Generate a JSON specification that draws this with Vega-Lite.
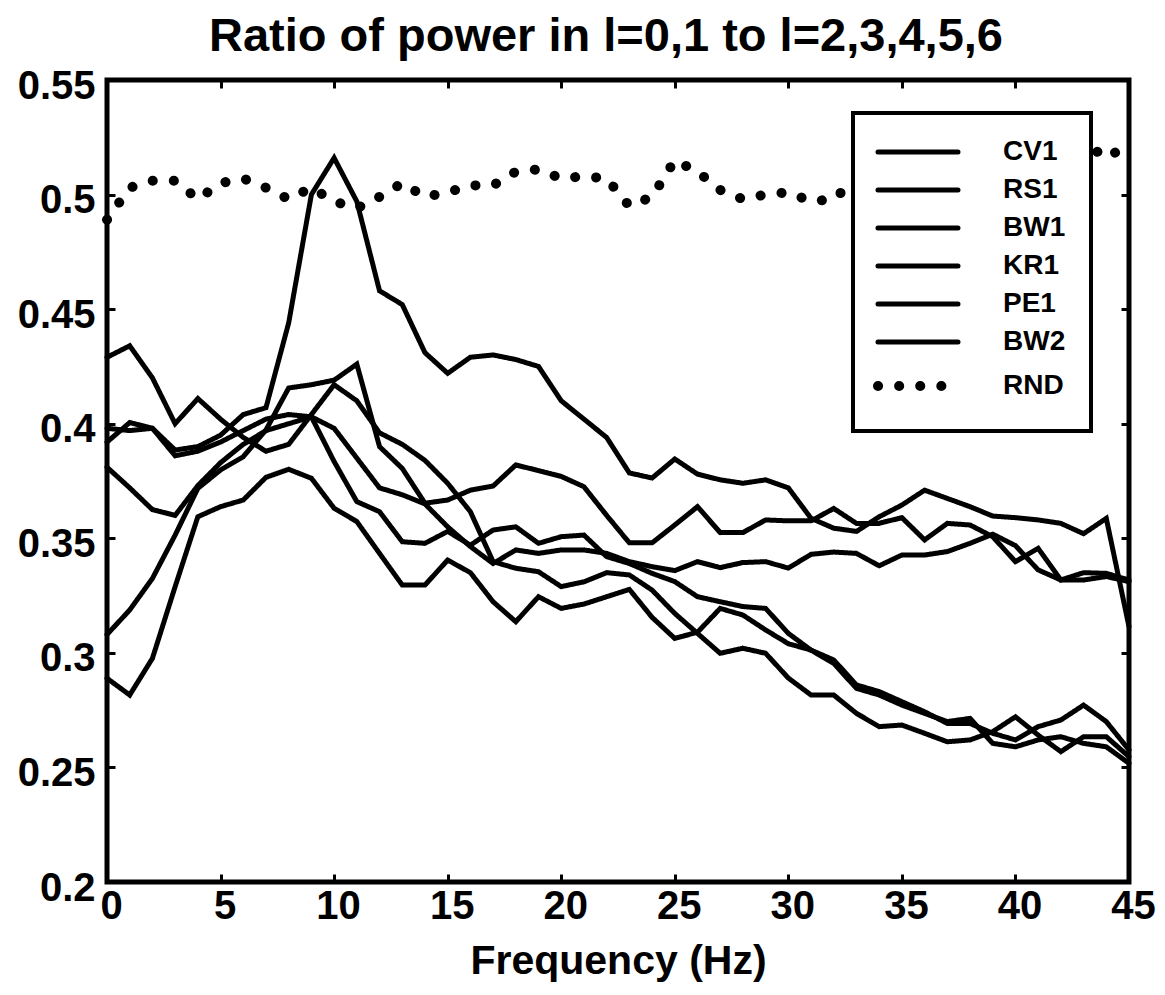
{
  "$schema": "https://vega.github.io/schema/vega-lite/v6.json",
  "width": 1022,
  "height": 802,
  "autosize": {"type": "none"},
  "padding": {"left": 107, "top": 80, "right": 36, "bottom": 113},
  "background": "white",
  "title": {"text": "Ratio of power in l=0,1 to l=2,3,4,5,6", "fontSize": 47, "font": "Liberation Sans", "fontWeight": "bold", "color": "black", "anchor": "middle", "offset": 5, "dx": -12},
  "config": {
    "view": {"stroke": "black", "strokeWidth": 5},
    "font": "Liberation Sans",
    "legend": {
      "orient": "none", "legendX": 746, "legendY": 33,
      "strokeColor": "black", "padding": 25, "rowPadding": 10,
      "symbolType": "M-4,0H4", "symbolSize": 400, "symbolOffset": 25,
      "labelOffset": 70, "labelFontSize": 28, "labelFont": "Liberation Sans",
      "labelFontWeight": "bold", "labelColor": "black", "fillColor": "white"
    }
  },
  "data": {"values": [
    {"f":0,"CV1":0.398,"RS1":0.429,"BW1":0.308,"KR1":0.392,"PE1":0.381,"BW2":0.2889,"RND":0.489},
    {"f":1,"CV1":0.397,"RS1":0.434,"BW1":0.3187,"KR1":0.4005,"PE1":0.372,"BW2":0.2816,"RND":0.503},
    {"f":2,"CV1":0.398,"RS1":0.420,"BW1":0.3325,"KR1":0.398,"PE1":0.3625,"BW2":0.2976,"RND":0.506},
    {"f":3,"CV1":0.3885,"RS1":0.400,"BW1":0.3514,"KR1":0.386,"PE1":0.360,"BW2":0.3289,"RND":0.506},
    {"f":4,"CV1":0.390,"RS1":0.411,"BW1":0.3718,"KR1":0.388,"PE1":0.373,"BW2":0.3594,"RND":0.498},
    {"f":5,"CV1":0.395,"RS1":0.402,"BW1":0.3798,"KR1":0.392,"PE1":0.383,"BW2":0.3638,"RND":0.505},
    {"f":6,"CV1":0.404,"RS1":0.394,"BW1":0.3856,"KR1":0.397,"PE1":0.391,"BW2":0.3667,"RND":0.507},
    {"f":7,"CV1":0.407,"RS1":0.388,"BW1":0.3973,"KR1":0.402,"PE1":0.397,"BW2":0.3766,"RND":0.503},
    {"f":8,"CV1":0.444,"RS1":0.391,"BW1":0.4156,"KR1":0.404,"PE1":0.400,"BW2":0.3801,"RND":0.498},
    {"f":9,"CV1":0.500,"RS1":0.404,"BW1":0.417,"KR1":0.403,"PE1":0.403,"BW2":0.3762,"RND":0.503},
    {"f":10,"CV1":0.516,"RS1":0.417,"BW1":0.419,"KR1":0.398,"PE1":0.3835,"BW2":0.3631,"RND":0.497},
    {"f":11,"CV1":0.497,"RS1":0.410,"BW1":0.426,"KR1":0.385,"PE1":0.366,"BW2":0.3573,"RND":0.494},
    {"f":12,"CV1":0.458,"RS1":0.396,"BW1":0.390,"KR1":0.372,"PE1":0.3616,"BW2":0.3434,"RND":0.499},
    {"f":13,"CV1":0.452,"RS1":0.391,"BW1":0.3805,"KR1":0.369,"PE1":0.3485,"BW2":0.3296,"RND":0.505},
    {"f":14,"CV1":0.431,"RS1":0.384,"BW1":0.3653,"KR1":0.365,"PE1":0.3478,"BW2":0.3296,"RND":0.499},
    {"f":15,"CV1":0.422,"RS1":0.374,"BW1":0.3667,"KR1":0.355,"PE1":0.353,"BW2":0.3405,"RND":0.501},
    {"f":16,"CV1":0.429,"RS1":0.3616,"BW1":0.371,"KR1":0.3464,"PE1":0.347,"BW2":0.335,"RND":0.504},
    {"f":17,"CV1":0.430,"RS1":0.3398,"BW1":0.3728,"KR1":0.339,"PE1":0.3536,"BW2":0.3223,"RND":0.504},
    {"f":18,"CV1":0.428,"RS1":0.3369,"BW1":0.382,"KR1":0.3449,"PE1":0.355,"BW2":0.3136,"RND":0.510},
    {"f":19,"CV1":0.425,"RS1":0.3354,"BW1":0.3795,"KR1":0.3434,"PE1":0.3478,"BW2":0.3245,"RND":0.511},
    {"f":20,"CV1":0.410,"RS1":0.3289,"BW1":0.377,"KR1":0.3449,"PE1":0.3507,"BW2":0.3194,"RND":0.507},
    {"f":21,"CV1":0.402,"RS1":0.331,"BW1":0.3725,"KR1":0.3449,"PE1":0.3514,"BW2":0.3213,"RND":0.508},
    {"f":22,"CV1":0.394,"RS1":0.335,"BW1":0.360,"KR1":0.3434,"PE1":0.342,"BW2":0.3245,"RND":0.507},
    {"f":23,"CV1":0.3785,"RS1":0.334,"BW1":0.348,"KR1":0.3398,"PE1":0.339,"BW2":0.3277,"RND":0.495},
    {"f":24,"CV1":0.3763,"RS1":0.3274,"BW1":0.348,"KR1":0.3376,"PE1":0.3347,"BW2":0.3155,"RND":0.499},
    {"f":25,"CV1":0.3846,"RS1":0.3172,"BW1":0.3558,"KR1":0.3359,"PE1":0.3311,"BW2":0.3063,"RND":0.515},
    {"f":26,"CV1":0.378,"RS1":0.3085,"BW1":0.3638,"KR1":0.3398,"PE1":0.3245,"BW2":0.309,"RND":0.510},
    {"f":27,"CV1":0.3755,"RS1":0.2998,"BW1":0.3525,"KR1":0.3372,"PE1":0.3223,"BW2":0.3194,"RND":0.502},
    {"f":28,"CV1":0.374,"RS1":0.302,"BW1":0.3525,"KR1":0.3394,"PE1":0.3202,"BW2":0.3165,"RND":0.498},
    {"f":29,"CV1":0.3755,"RS1":0.2998,"BW1":0.358,"KR1":0.3398,"PE1":0.3194,"BW2":0.31,"RND":0.500},
    {"f":30,"CV1":0.372,"RS1":0.289,"BW1":0.3576,"KR1":0.337,"PE1":0.3085,"BW2":0.304,"RND":0.501},
    {"f":31,"CV1":0.3587,"RS1":0.2816,"BW1":0.3576,"KR1":0.343,"PE1":0.3012,"BW2":0.3012,"RND":0.497},
    {"f":32,"CV1":0.3544,"RS1":0.2816,"BW1":0.363,"KR1":0.344,"PE1":0.2954,"BW2":0.2969,"RND":0.498},
    {"f":33,"CV1":0.353,"RS1":0.2736,"BW1":0.3565,"KR1":0.3434,"PE1":0.2845,"BW2":0.286,"RND":0.507},
    {"f":34,"CV1":0.3594,"RS1":0.2678,"BW1":0.3565,"KR1":0.338,"PE1":0.2816,"BW2":0.2831,"RND":0.505},
    {"f":35,"CV1":0.3645,"RS1":0.2685,"BW1":0.359,"KR1":0.3427,"PE1":0.2772,"BW2":0.2787,"RND":0.503},
    {"f":36,"CV1":0.371,"RS1":0.2649,"BW1":0.3493,"KR1":0.3427,"PE1":0.2736,"BW2":0.2743,"RND":0.506},
    {"f":37,"CV1":0.3674,"RS1":0.2612,"BW1":0.3565,"KR1":0.3442,"PE1":0.270,"BW2":0.2692,"RND":0.508},
    {"f":38,"CV1":0.3638,"RS1":0.262,"BW1":0.3558,"KR1":0.3478,"PE1":0.2714,"BW2":0.2692,"RND":0.504},
    {"f":39,"CV1":0.3597,"RS1":0.2656,"BW1":0.3507,"KR1":0.3518,"PE1":0.2605,"BW2":0.2649,"RND":0.502},
    {"f":40,"CV1":0.359,"RS1":0.2721,"BW1":0.3398,"KR1":0.3468,"PE1":0.259,"BW2":0.262,"RND":0.505},
    {"f":41,"CV1":0.358,"RS1":0.2641,"BW1":0.3456,"KR1":0.3362,"PE1":0.262,"BW2":0.2678,"RND":0.509},
    {"f":42,"CV1":0.3565,"RS1":0.2569,"BW1":0.3318,"KR1":0.3318,"PE1":0.2634,"BW2":0.2707,"RND":0.512},
    {"f":43,"CV1":0.352,"RS1":0.2634,"BW1":0.335,"KR1":0.3318,"PE1":0.2605,"BW2":0.2772,"RND":0.515},
    {"f":44,"CV1":0.3587,"RS1":0.2634,"BW1":0.3347,"KR1":0.3333,"PE1":0.259,"BW2":0.27,"RND":0.521},
    {"f":45,"CV1":0.3114,"RS1":0.2547,"BW1":0.3318,"KR1":0.3311,"PE1":0.2518,"BW2":0.2576,"RND":0.514}
  ]},
  "transform": [{"fold": ["CV1","RS1","BW1","KR1","PE1","BW2","RND"], "as": ["series","value"]}],
  "layer": [
    {
      "mark": {"type": "line", "strokeCap": "round", "strokeJoin": "miter"},
      "encoding": {
        "x": {"field": "f", "type": "quantitative",
          "scale": {"domain": [0, 45], "nice": false, "zero": false},
          "axis": {"orient": "bottom", "values": [0,5,10,15,20,25,30,35,40,45], "format": "d",
            "title": "Frequency (Hz)", "domain": false, "grid": false,
            "tickSize": -8, "tickWidth": 3, "tickColor": "black",
            "labelFontSize": 40, "labelFont": "Liberation Sans", "labelFontWeight": "bold", "labelColor": "black",
            "labelPadding": 12, "labelFlush": false, "labelOffset": 4,
            "titleFontSize": 41, "titleFont": "Liberation Sans", "titleFontWeight": "bold", "titleColor": "black", "titlePadding": 15}},
        "y": {"field": "value", "type": "quantitative",
          "scale": {"domain": [0.2, 0.55], "nice": false, "zero": false},
          "axis": {"orient": "left", "values": [0.2,0.25,0.3,0.35,0.4,0.45,0.5,0.55], "format": ".2~f",
            "title": null, "domain": false, "grid": false,
            "tickSize": -8, "tickWidth": 3, "tickColor": "black",
            "labelFontSize": 40, "labelFont": "Liberation Sans", "labelFontWeight": "bold", "labelColor": "black",
            "labelPadding": 20, "labelFlush": false, "labelOffset": 6}},
        "color": {"field": "series", "type": "nominal",
          "scale": {"domain": ["CV1","RS1","BW1","KR1","PE1","BW2","RND"], "range": ["black","black","black","black","black","black","black"]},
          "legend": {"title": null, "encode": {"legend": {"update": {"strokeWidth": {"value": 4}}}, "symbols": {"update": {"strokeCap": {"value": "round"}}}}}},
        "strokeDash": {"field": "series", "type": "nominal",
          "scale": {"domain": ["CV1","RS1","BW1","KR1","PE1","BW2","RND"], "range": [[1,0],[1,0],[1,0],[1,0],[1,0],[1,0],[0.1,21]]},
          "legend": {"title": null}},
        "strokeWidth": {"field": "series", "type": "nominal",
          "scale": {"type": "ordinal", "domain": ["CV1","RS1","BW1","KR1","PE1","BW2","RND"], "range": [5,5,5,5,5,5,10]},
          "legend": {"title": null}}
      }
    },
    {
      "mark": {"type": "point", "opacity": 0},
      "encoding": {
        "x": {"field": "f", "type": "quantitative",
          "axis": {"orient": "top", "values": [0,5,10,15,20,25,30,35,40,45], "labels": false, "title": null,
            "domain": false, "grid": false, "tickSize": -8, "tickWidth": 3, "tickColor": "black"}},
        "y": {"field": "value", "type": "quantitative",
          "axis": {"orient": "right", "values": [0.2,0.25,0.3,0.35,0.4,0.45,0.5,0.55], "labels": false, "title": null,
            "domain": false, "grid": false, "tickSize": -8, "tickWidth": 3, "tickColor": "black"}}
      }
    }
  ],
  "resolve": {"axis": {"x": "independent", "y": "independent"}}
}
